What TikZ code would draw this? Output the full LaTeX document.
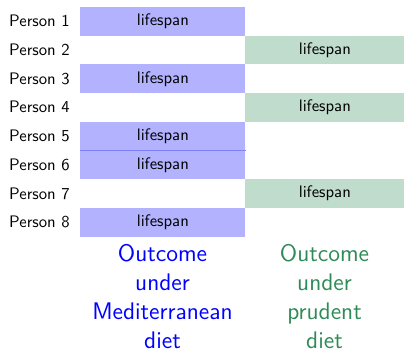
\documentclass[tikz,border=0pt]{standalone}
\usepackage{xcolor}
\definecolor{sgreen}{HTML}{2E8B57}
\begin{document}
\begin{tikzpicture}[x=0.6pt,y=-0.6pt,font=\sffamily,
  bluebox/.style={fill=blue!30,minimum width=99pt,minimum height=17.2pt,inner sep=0pt,anchor=north west},
  greenbox/.style={fill=sgreen!30,minimum width=95.4pt,minimum height=17.2pt,inner sep=0pt,anchor=north west},
  plabel/.style={anchor=east,inner sep=0pt},
  outcome/.style={font=\sffamily\fontsize{14.4}{17.5}\selectfont,align=center,anchor=north,inner sep=0pt}]
\useasboundingbox (0,0) rectangle (404,352);
\foreach \i in {1,...,8} {
  \node[plabel] (l\i) at (70,{21.2+(\i-1)*28.7}) {Person \i};
}
\node[bluebox] (b1) at (80,6.7) {lifespan};
\node[greenbox] (g2) at (245,35.4) {lifespan};
\node[bluebox] (b3) at (80,64.1) {lifespan};
\node[greenbox] (g4) at (245,92.8) {lifespan};
\node[bluebox] (b5) at (80,121.5) {lifespan};
\node[bluebox] (b6) at (80,150.2) {lifespan};
\node[greenbox] (g7) at (245,178.9) {lifespan};
\node[bluebox] (b8) at (80,207.6) {lifespan};
\draw[blue!50,line width=0.4pt] (b5.south west) -- (b5.south east);
\node[outcome,text=blue] (om) at (162.5,244) {Outcome\\under\\Mediterranean\\diet};
\node[outcome,text=sgreen] (op) at (324.5,244) {Outcome\\under\\prudent\\diet};
\end{tikzpicture}
\end{document}
